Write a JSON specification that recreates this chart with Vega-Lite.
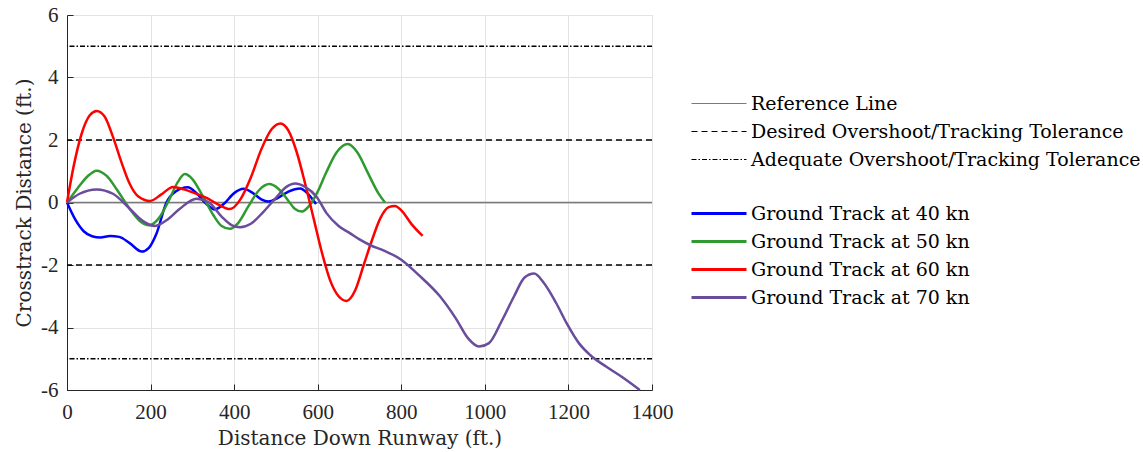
{
  "$schema": "https://vega.github.io/schema/vega-lite/v6.json",
  "width": 585,
  "height": 375,
  "autosize": {"type": "none"},
  "padding": {"left": 67, "top": 15, "right": 491, "bottom": 62},
  "background": "white",
  "config": {
    "font": "DejaVu Serif",
    "view": {"stroke": "#e0e0e0", "strokeWidth": 1},
    "axis": {
      "domainColor": "#262626",
      "domainWidth": 1,
      "tickColor": "#262626",
      "tickSize": -6,
      "labelColor": "#262626",
      "titleColor": "#262626",
      "labelFont": "Liberation Serif",
      "titleFont": "DejaVu Serif",
      "labelFontSize": 21,
      "titleFontSize": 20,
      "titleFontWeight": "normal",
      "labelFlush": false,
      "labelOverlap": false,
      "gridColor": "#e3e3e3",
      "gridWidth": 1
    },
    "legend": {
      "labelFont": "DejaVu Serif",
      "labelFontSize": 19,
      "labelColor": "black",
      "labelLimit": 0,
      "symbolType": "M-5.5,0H5.5",
      "symbolSize": 100,
      "labelOffset": 22.5,
      "rowPadding": 8,
      "orient": "none",
      "title": null
    }
  },
  "datasets": {
    "refs": [
      {"kind": "Reference Line", "y": 0},
      {"kind": "Desired Overshoot/Tracking Tolerance", "y": 2},
      {"kind": "Desired Overshoot/Tracking Tolerance", "y": -2},
      {"kind": "Adequate Overshoot/Tracking Tolerance", "y": 5},
      {"kind": "Adequate Overshoot/Tracking Tolerance", "y": -5}
    ],
    "tracks": [
      {"series": "Ground Track at 40 kn", "x": 0, "y": 0},
      {"series": "Ground Track at 40 kn", "x": 20, "y": -0.55},
      {"series": "Ground Track at 40 kn", "x": 40, "y": -0.92},
      {"series": "Ground Track at 40 kn", "x": 60, "y": -1.08},
      {"series": "Ground Track at 40 kn", "x": 80, "y": -1.12},
      {"series": "Ground Track at 40 kn", "x": 103, "y": -1.07},
      {"series": "Ground Track at 40 kn", "x": 125, "y": -1.1},
      {"series": "Ground Track at 40 kn", "x": 150, "y": -1.3},
      {"series": "Ground Track at 40 kn", "x": 179, "y": -1.57},
      {"series": "Ground Track at 40 kn", "x": 196, "y": -1.45},
      {"series": "Ground Track at 40 kn", "x": 214, "y": -1.0},
      {"series": "Ground Track at 40 kn", "x": 238, "y": 0.0},
      {"series": "Ground Track at 40 kn", "x": 260, "y": 0.35},
      {"series": "Ground Track at 40 kn", "x": 289, "y": 0.49},
      {"series": "Ground Track at 40 kn", "x": 310, "y": 0.3},
      {"series": "Ground Track at 40 kn", "x": 330, "y": 0.0},
      {"series": "Ground Track at 40 kn", "x": 354, "y": -0.22},
      {"series": "Ground Track at 40 kn", "x": 375, "y": -0.05},
      {"series": "Ground Track at 40 kn", "x": 400, "y": 0.3},
      {"series": "Ground Track at 40 kn", "x": 422, "y": 0.44},
      {"series": "Ground Track at 40 kn", "x": 445, "y": 0.3},
      {"series": "Ground Track at 40 kn", "x": 465, "y": 0.1},
      {"series": "Ground Track at 40 kn", "x": 482, "y": 0.03},
      {"series": "Ground Track at 40 kn", "x": 505, "y": 0.15},
      {"series": "Ground Track at 40 kn", "x": 530, "y": 0.35},
      {"series": "Ground Track at 40 kn", "x": 558, "y": 0.45},
      {"series": "Ground Track at 40 kn", "x": 575, "y": 0.3},
      {"series": "Ground Track at 40 kn", "x": 596, "y": -0.05},

      {"series": "Ground Track at 50 kn", "x": 0, "y": 0},
      {"series": "Ground Track at 50 kn", "x": 25, "y": 0.45},
      {"series": "Ground Track at 50 kn", "x": 50, "y": 0.85},
      {"series": "Ground Track at 50 kn", "x": 71, "y": 1.02},
      {"series": "Ground Track at 50 kn", "x": 95, "y": 0.85},
      {"series": "Ground Track at 50 kn", "x": 120, "y": 0.4},
      {"series": "Ground Track at 50 kn", "x": 150, "y": -0.2},
      {"series": "Ground Track at 50 kn", "x": 175, "y": -0.6},
      {"series": "Ground Track at 50 kn", "x": 197, "y": -0.73},
      {"series": "Ground Track at 50 kn", "x": 220, "y": -0.5},
      {"series": "Ground Track at 50 kn", "x": 245, "y": 0.1},
      {"series": "Ground Track at 50 kn", "x": 265, "y": 0.65},
      {"series": "Ground Track at 50 kn", "x": 282, "y": 0.91},
      {"series": "Ground Track at 50 kn", "x": 300, "y": 0.75},
      {"series": "Ground Track at 50 kn", "x": 325, "y": 0.2},
      {"series": "Ground Track at 50 kn", "x": 350, "y": -0.4},
      {"series": "Ground Track at 50 kn", "x": 370, "y": -0.75},
      {"series": "Ground Track at 50 kn", "x": 390, "y": -0.84},
      {"series": "Ground Track at 50 kn", "x": 410, "y": -0.65},
      {"series": "Ground Track at 50 kn", "x": 435, "y": -0.1},
      {"series": "Ground Track at 50 kn", "x": 460, "y": 0.4},
      {"series": "Ground Track at 50 kn", "x": 484, "y": 0.59},
      {"series": "Ground Track at 50 kn", "x": 505, "y": 0.45},
      {"series": "Ground Track at 50 kn", "x": 530, "y": 0.05},
      {"series": "Ground Track at 50 kn", "x": 545, "y": -0.2},
      {"series": "Ground Track at 50 kn", "x": 562, "y": -0.29},
      {"series": "Ground Track at 50 kn", "x": 580, "y": -0.1},
      {"series": "Ground Track at 50 kn", "x": 600, "y": 0.35},
      {"series": "Ground Track at 50 kn", "x": 620, "y": 0.95},
      {"series": "Ground Track at 50 kn", "x": 645, "y": 1.6},
      {"series": "Ground Track at 50 kn", "x": 672, "y": 1.87},
      {"series": "Ground Track at 50 kn", "x": 695, "y": 1.6},
      {"series": "Ground Track at 50 kn", "x": 720, "y": 0.95},
      {"series": "Ground Track at 50 kn", "x": 745, "y": 0.3},
      {"series": "Ground Track at 50 kn", "x": 761, "y": 0.0},

      {"series": "Ground Track at 60 kn", "x": 0, "y": 0},
      {"series": "Ground Track at 60 kn", "x": 15, "y": 1.1},
      {"series": "Ground Track at 60 kn", "x": 35, "y": 2.2},
      {"series": "Ground Track at 60 kn", "x": 55, "y": 2.8},
      {"series": "Ground Track at 60 kn", "x": 71, "y": 2.93},
      {"series": "Ground Track at 60 kn", "x": 90, "y": 2.75},
      {"series": "Ground Track at 60 kn", "x": 110, "y": 2.1},
      {"series": "Ground Track at 60 kn", "x": 130, "y": 1.3},
      {"series": "Ground Track at 60 kn", "x": 150, "y": 0.6},
      {"series": "Ground Track at 60 kn", "x": 170, "y": 0.2},
      {"series": "Ground Track at 60 kn", "x": 199, "y": 0.05},
      {"series": "Ground Track at 60 kn", "x": 225, "y": 0.25},
      {"series": "Ground Track at 60 kn", "x": 254, "y": 0.5},
      {"series": "Ground Track at 60 kn", "x": 280, "y": 0.42},
      {"series": "Ground Track at 60 kn", "x": 305, "y": 0.3},
      {"series": "Ground Track at 60 kn", "x": 334, "y": 0.15},
      {"series": "Ground Track at 60 kn", "x": 360, "y": -0.05},
      {"series": "Ground Track at 60 kn", "x": 390, "y": -0.21},
      {"series": "Ground Track at 60 kn", "x": 415, "y": 0.1},
      {"series": "Ground Track at 60 kn", "x": 440, "y": 0.8},
      {"series": "Ground Track at 60 kn", "x": 465, "y": 1.7},
      {"series": "Ground Track at 60 kn", "x": 490, "y": 2.35},
      {"series": "Ground Track at 60 kn", "x": 511, "y": 2.53},
      {"series": "Ground Track at 60 kn", "x": 530, "y": 2.3},
      {"series": "Ground Track at 60 kn", "x": 550, "y": 1.6},
      {"series": "Ground Track at 60 kn", "x": 570, "y": 0.6},
      {"series": "Ground Track at 60 kn", "x": 590, "y": -0.5},
      {"series": "Ground Track at 60 kn", "x": 610, "y": -1.6},
      {"series": "Ground Track at 60 kn", "x": 630, "y": -2.5},
      {"series": "Ground Track at 60 kn", "x": 650, "y": -3.0},
      {"series": "Ground Track at 60 kn", "x": 669, "y": -3.15},
      {"series": "Ground Track at 60 kn", "x": 690, "y": -2.8},
      {"series": "Ground Track at 60 kn", "x": 710, "y": -2.0},
      {"series": "Ground Track at 60 kn", "x": 730, "y": -1.2},
      {"series": "Ground Track at 60 kn", "x": 750, "y": -0.5},
      {"series": "Ground Track at 60 kn", "x": 770, "y": -0.15},
      {"series": "Ground Track at 60 kn", "x": 785, "y": -0.11},
      {"series": "Ground Track at 60 kn", "x": 800, "y": -0.25},
      {"series": "Ground Track at 60 kn", "x": 825, "y": -0.7},
      {"series": "Ground Track at 60 kn", "x": 851, "y": -1.07},

      {"series": "Ground Track at 70 kn", "x": 0, "y": 0},
      {"series": "Ground Track at 70 kn", "x": 30, "y": 0.28},
      {"series": "Ground Track at 70 kn", "x": 71, "y": 0.42},
      {"series": "Ground Track at 70 kn", "x": 110, "y": 0.28},
      {"series": "Ground Track at 70 kn", "x": 150, "y": -0.2},
      {"series": "Ground Track at 70 kn", "x": 180, "y": -0.58},
      {"series": "Ground Track at 70 kn", "x": 211, "y": -0.75},
      {"series": "Ground Track at 70 kn", "x": 240, "y": -0.55},
      {"series": "Ground Track at 70 kn", "x": 270, "y": -0.2},
      {"series": "Ground Track at 70 kn", "x": 310, "y": 0.12},
      {"series": "Ground Track at 70 kn", "x": 340, "y": 0.0},
      {"series": "Ground Track at 70 kn", "x": 370, "y": -0.45},
      {"series": "Ground Track at 70 kn", "x": 395, "y": -0.73},
      {"series": "Ground Track at 70 kn", "x": 414, "y": -0.79},
      {"series": "Ground Track at 70 kn", "x": 440, "y": -0.68},
      {"series": "Ground Track at 70 kn", "x": 470, "y": -0.3},
      {"series": "Ground Track at 70 kn", "x": 500, "y": 0.15},
      {"series": "Ground Track at 70 kn", "x": 525, "y": 0.5},
      {"series": "Ground Track at 70 kn", "x": 546, "y": 0.61},
      {"series": "Ground Track at 70 kn", "x": 570, "y": 0.5},
      {"series": "Ground Track at 70 kn", "x": 598, "y": 0.17},
      {"series": "Ground Track at 70 kn", "x": 621, "y": -0.34},
      {"series": "Ground Track at 70 kn", "x": 650, "y": -0.75},
      {"series": "Ground Track at 70 kn", "x": 677, "y": -0.98},
      {"series": "Ground Track at 70 kn", "x": 700, "y": -1.18},
      {"series": "Ground Track at 70 kn", "x": 725, "y": -1.36},
      {"series": "Ground Track at 70 kn", "x": 760, "y": -1.55},
      {"series": "Ground Track at 70 kn", "x": 800, "y": -1.83},
      {"series": "Ground Track at 70 kn", "x": 840, "y": -2.3},
      {"series": "Ground Track at 70 kn", "x": 893, "y": -3.01},
      {"series": "Ground Track at 70 kn", "x": 930, "y": -3.7},
      {"series": "Ground Track at 70 kn", "x": 960, "y": -4.35},
      {"series": "Ground Track at 70 kn", "x": 986, "y": -4.61},
      {"series": "Ground Track at 70 kn", "x": 1010, "y": -4.5},
      {"series": "Ground Track at 70 kn", "x": 1040, "y": -3.8},
      {"series": "Ground Track at 70 kn", "x": 1070, "y": -3.0},
      {"series": "Ground Track at 70 kn", "x": 1095, "y": -2.4},
      {"series": "Ground Track at 70 kn", "x": 1118, "y": -2.27},
      {"series": "Ground Track at 70 kn", "x": 1140, "y": -2.55},
      {"series": "Ground Track at 70 kn", "x": 1170, "y": -3.2},
      {"series": "Ground Track at 70 kn", "x": 1196, "y": -3.87},
      {"series": "Ground Track at 70 kn", "x": 1225, "y": -4.5},
      {"series": "Ground Track at 70 kn", "x": 1252, "y": -4.88},
      {"series": "Ground Track at 70 kn", "x": 1290, "y": -5.25},
      {"series": "Ground Track at 70 kn", "x": 1330, "y": -5.6},
      {"series": "Ground Track at 70 kn", "x": 1371, "y": -6.0}
    ]
  },
  "layer": [
    {
      "data": {"name": "refs"},
      "mark": {"type": "rule", "strokeWidth": 1.7},
      "encoding": {
        "y": {
          "field": "y", "type": "quantitative",
          "scale": {"domain": [-6, 6], "nice": false, "zero": false},
          "axis": {"title": "Crosstrack Distance (ft.)", "values": [-6, -4, -2, 0, 2, 4, 6], "labelExpr": "'' + datum.value", "labelPadding": 15, "titlePadding": 6}
        },
        "stroke": {
          "field": "kind", "type": "nominal",
          "scale": {
            "domain": ["Reference Line", "Desired Overshoot/Tracking Tolerance", "Adequate Overshoot/Tracking Tolerance"],
            "range": ["#7a7a7a", "#000000", "#000000"]
          },
          "legend": {"legendX": 642.5, "legendY": 79, "symbolStrokeWidth": 1.2}
        },
        "strokeDash": {
          "field": "kind", "type": "nominal",
          "scale": {
            "domain": ["Reference Line", "Desired Overshoot/Tracking Tolerance", "Adequate Overshoot/Tracking Tolerance"],
            "range": [[1, 0], [6, 4], [5, 2, 1.5, 2]]
          },
          "legend": {"legendX": 642.5, "legendY": 79, "symbolStrokeWidth": 1.2}
        }
      }
    },
    {
      "data": {"name": "tracks"},
      "mark": {"type": "line", "interpolate": "monotone", "strokeWidth": 2.5},
      "encoding": {
        "x": {
          "field": "x", "type": "quantitative",
          "scale": {"domain": [0, 1400], "nice": false},
          "axis": {"title": "Distance Down Runway (ft.)", "values": [0, 200, 400, 600, 800, 1000, 1200, 1400], "format": "d", "labelPadding": 17, "titlePadding": 6}
        },
        "y": {"field": "y", "type": "quantitative"},
        "color": {
          "field": "series", "type": "nominal",
          "scale": {
            "domain": ["Ground Track at 40 kn", "Ground Track at 50 kn", "Ground Track at 60 kn", "Ground Track at 70 kn"],
            "range": ["#0000ff", "#2f9a2f", "#ff0000", "#6a4c9c"]
          },
          "legend": {"legendX": 642.5, "legendY": 189, "symbolStrokeWidth": 3}
        }
      }
    }
  ]
}
